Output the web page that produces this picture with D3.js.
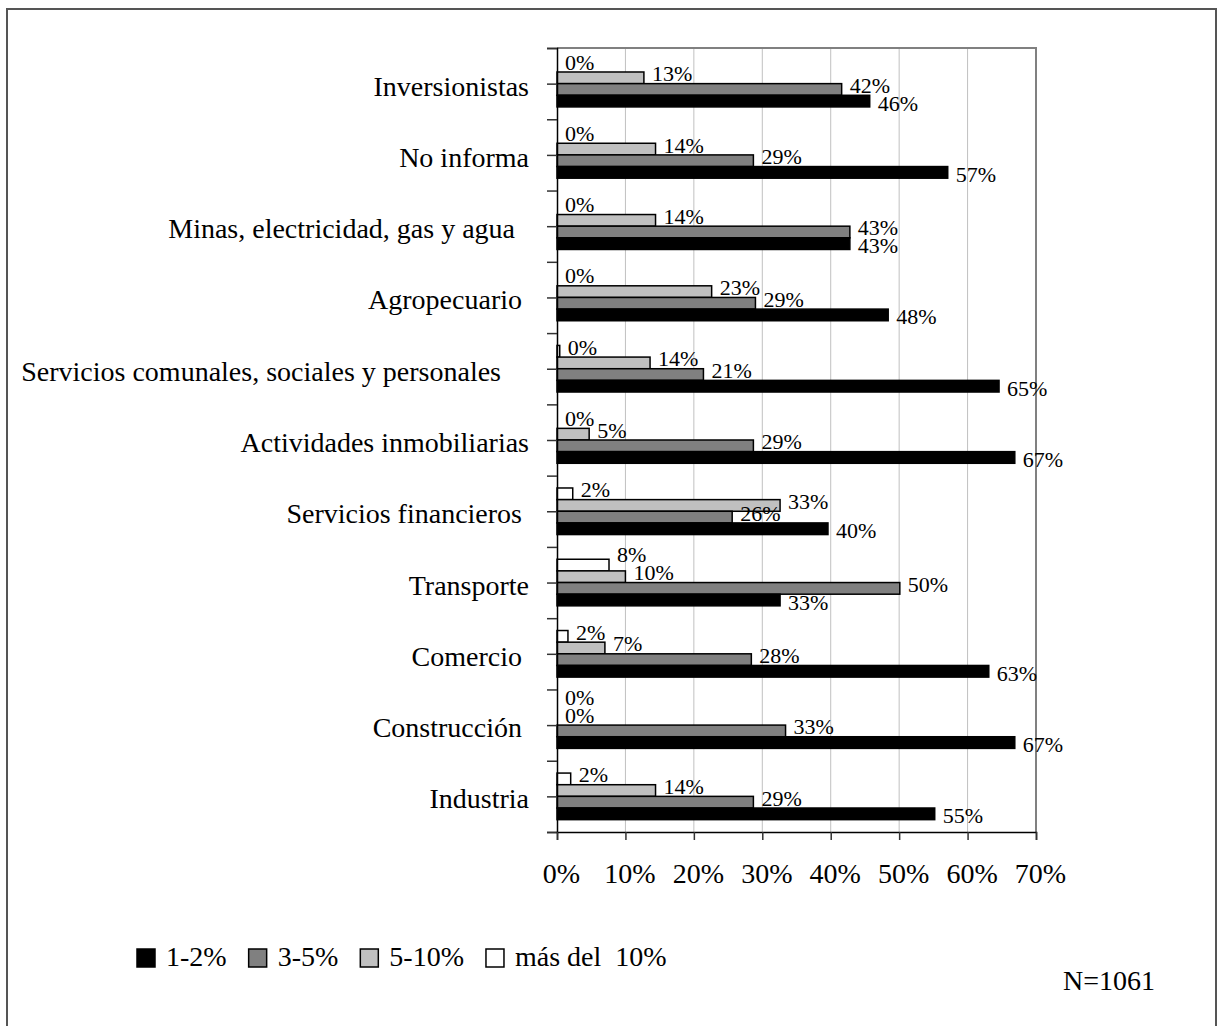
<!DOCTYPE html>
<html>
<head>
<meta charset="utf-8">
<script src="https://cdn.jsdelivr.net/npm/d3@7"></script>
<style>
  html, body { margin: 0; padding: 0; background: #fff; }
  svg text { font-family: "Liberation Serif", "Times New Roman", serif; white-space: pre; fill: #000; }
</style>
</head>
<body>
<script>
// ---- Data ----
const categories = [
  "Inversionistas",
  "No informa",
  "Minas, electricidad, gas y agua  ",
  "Agropecuario ",
  "Servicios comunales, sociales y personales    ",
  "Actividades inmobiliarias",
  "Servicios financieros ",
  "Transporte",
  "Comercio ",
  "Construcción ",
  "Industria"
];
const seriesNames = ["1-2%", "3-5%", "5-10%", "más del  10%"];
const v1a2   = [45.7, 57.1, 42.8, 48.4, 64.6, 66.9, 39.6, 32.6, 63.1, 66.9, 55.2];
const v3a5   = [41.6, 28.7, 42.8, 29.0, 21.4, 28.7, 25.6, 50.1, 28.4, 33.4, 28.7];
const v5a10  = [12.7, 14.4, 14.4, 22.6, 13.6, 4.7, 32.6, 10.0, 7.0, 0, 14.4];
const vMas10 = [0, 0, 0, 0, 0.4, 0, 2.3, 7.6, 1.6, 0, 2.0];
const xTicks = [0, 10, 20, 30, 40, 50, 60, 70];
const footNote = "N=1061";

const seriesValues = [v1a2, v3a5, v5a10, vMas10];
const seriesFill = ["#000000", "#808080", "#c0c0c0", "#ffffff"];
// order of bars top -> bottom inside each group
const stackOrder = [3, 2, 1, 0];

const W = 1218, H = 1026;
const svg = d3.select("body").append("svg").attr("width", W).attr("height", H);

svg.append("rect").attr("width", W).attr("height", H).attr("fill", "#fff");
// outer frame
svg.append("rect").attr("x", 7).attr("y", 9).attr("width", 1209).attr("height", 1040)
  .attr("fill", "none").attr("stroke", "#555").attr("stroke-width", 2);

const pLeft = 557, pRight = 1036, pTop = 48, pBottom = 832;
const x = d3.scaleLinear().domain([0, 70]).range([pLeft, pRight]);
const y = d3.scaleBand().domain(categories).range([pTop, pBottom]).padding(0);
const yInner = d3.scaleBand().domain(stackOrder).range([0, y.bandwidth()])
  .paddingInner(0).paddingOuter(1.06);

// gridlines
svg.append("g").selectAll("line").data(xTicks.filter(t => t > 0 && t < 70)).join("line")
  .attr("x1", d => x(d)).attr("x2", d => x(d)).attr("y1", pTop).attr("y2", pBottom)
  .attr("stroke", "#c0c0c0").attr("stroke-width", 1);

// plot frame (top & right)
svg.append("path")
  .attr("d", `M${pLeft},${pTop}H${pRight}V${pBottom}`)
  .attr("fill", "none").attr("stroke", "#808080").attr("stroke-width", 2);

// bars
const rows = [];
categories.forEach((c, i) => {
  stackOrder.forEach(s => rows.push({ cat: c, s, v: seriesValues[s][i] }));
});

svg.append("g").selectAll("rect").data(rows.filter(d => d.v > 0)).join("rect")
  .attr("x", x(0))
  .attr("y", d => y(d.cat) + yInner(d.s))
  .attr("width", d => x(d.v) - x(0))
  .attr("height", yInner.bandwidth())
  .attr("fill", d => seriesFill[d.s])
  .attr("stroke", "#000").attr("stroke-width", 1.5);

// data labels
const labels = svg.append("g").selectAll("text").data(rows).join("text")
  .attr("x", d => x(d.v) + 8)
  .attr("font-size", 22)
  .text(d => d3.format(".0f")(d.v) + "%")
  .each(function (d) {
    d.lx = x(d.v) + 8;
    d.lw = this.getComputedTextLength();
    d.ly = y(d.cat) + yInner(d.s) + yInner.bandwidth() / 2 + (d.s === 0 ? 9.5 : 3.5);
  });

// simple collision handling inside each group: lift upper label when it collides
categories.forEach(c => {
  const g = rows.filter(r => r.cat === c); // top -> bottom
  for (let k = g.length - 2; k >= 0; k--) {
    const a = g[k], b = g[k + 1];
    const hOverlap = a.lx < b.lx + b.lw && b.lx < a.lx + a.lw;
    if (hOverlap && b.ly - a.ly < 18) a.ly = b.ly - 18;
  }
});
labels.attr("y", d => d.ly);

// left axis ticks (every half category)
const yTickScale = d3.scaleLinear().domain([0, categories.length * 2]).range([pTop, pBottom]);
const gl = svg.append("g").attr("transform", `translate(${pLeft},0)`)
  .call(d3.axisLeft(yTickScale).tickValues(d3.range(0, categories.length * 2 + 1))
    .tickSize(10).tickFormat(""));
gl.select(".domain").attr("stroke", "#000").attr("stroke-width", 1.5);
gl.selectAll(".tick line").attr("stroke", "#333").attr("stroke-width", 1.5);

// category labels
svg.append("g").selectAll("text").data(categories).join("text")
  .attr("x", 529)
  .attr("y", d => y(d) + y.bandwidth() / 2 + 12)
  .attr("text-anchor", "end")
  .attr("font-size", 28)
  .text(d => d);

// bottom axis
const gb = svg.append("g").attr("transform", `translate(0,${pBottom})`)
  .call(d3.axisBottom(x).tickValues(xTicks).tickSize(8).tickPadding(0).tickFormat(d => d + "%"));
gb.select(".domain").attr("stroke", "#000").attr("stroke-width", 1.5);
gb.selectAll(".tick line").attr("stroke", "#333").attr("stroke-width", 1.5);
gb.selectAll(".tick text")
  .attr("font-family", "Liberation Serif, Times New Roman, serif")
  .attr("font-size", 28).attr("fill", "#000")
  .attr("dy", null).attr("y", 51).attr("dx", 4);

// legend
const legend = svg.append("g");
let lx = 137;
seriesNames.forEach((name, s) => {
  legend.append("rect").attr("x", lx).attr("y", 949).attr("width", 18).attr("height", 18)
    .attr("fill", seriesFill[s]).attr("stroke", "#000").attr("stroke-width", 1.5);
  const t = legend.append("text").attr("x", lx + 29).attr("y", 966)
    .attr("font-size", 28).text(name);
  lx = lx + 29 + t.node().getComputedTextLength() + 22;
});

// footnote
svg.append("text").attr("x", 1063).attr("y", 990).attr("font-size", 28).text(footNote);
</script>
</body>
</html>
